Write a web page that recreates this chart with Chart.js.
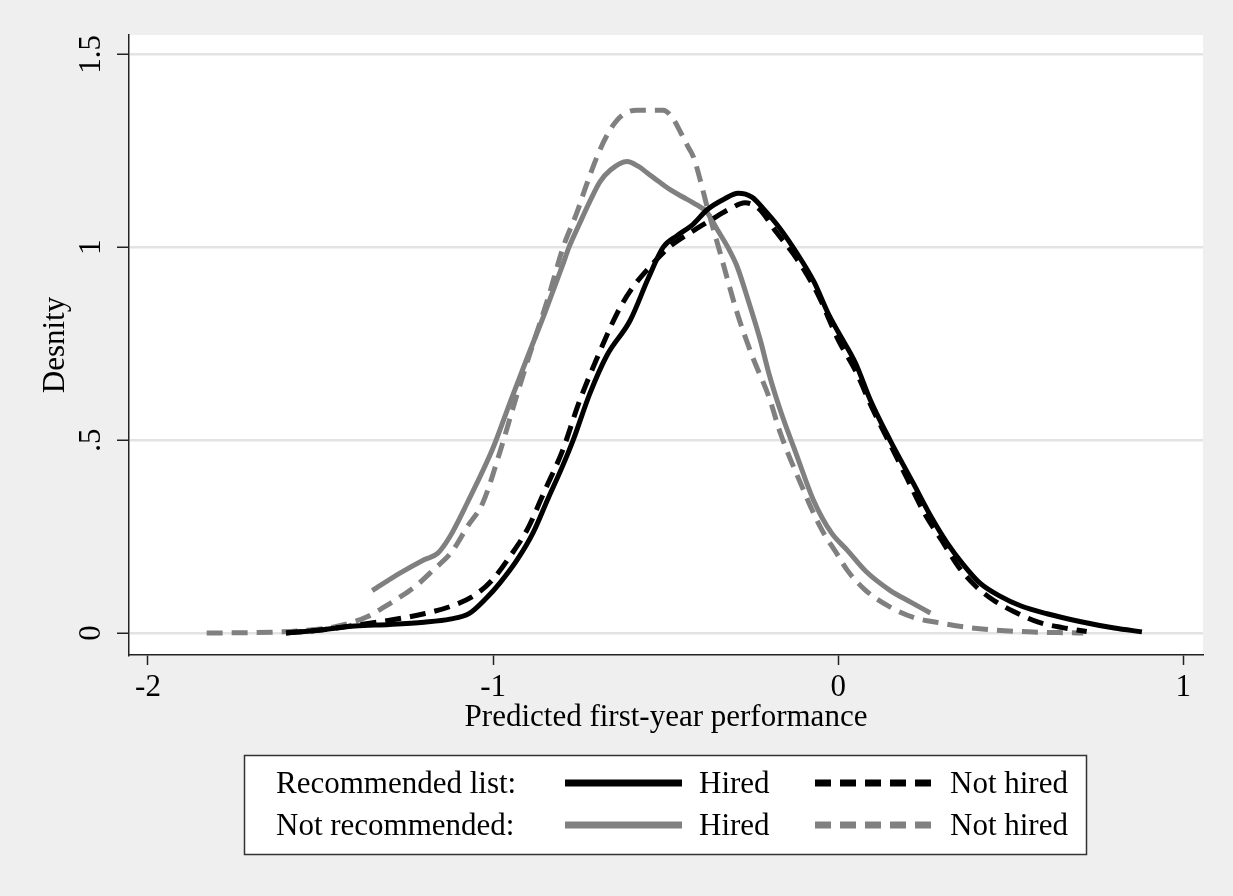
<!DOCTYPE html>
<html>
<head>
<meta charset="utf-8">
<title>Predicted first-year performance densities</title>
<script src="https://cdn.jsdelivr.net/npm/chart.js@4/dist/chart.umd.min.js"></script>
<style>
  html, body { margin: 0; padding: 0; background: #efefef; }
  #wrap { width: 1233px; height: 896px; }
</style>
</head>
<body>
<div id="wrap"><canvas id="chart" width="1233" height="896"></canvas></div>
<script>
// Kernel density estimates of predicted first-year performance
const xRecHired = [-1.60,-1.50,-1.40,-1.30,-1.20,-1.125,-1.07,-1.02,-0.98,-0.93,-0.884,-0.84,-0.80,-0.768,-0.72,-0.67,-0.603,-0.55,-0.507,-0.467,-0.42,-0.38,-0.33,-0.29,-0.25,-0.217,-0.17,-0.12,-0.07,-0.03,0.0,0.05,0.093,0.15,0.217,0.27,0.316,0.36,0.41,0.47,0.53,0.605,0.70,0.80,0.88];
const densRecHired = [0.000,0.008,0.018,0.022,0.028,0.036,0.05,0.09,0.13,0.19,0.26,0.35,0.43,0.50,0.62,0.72,0.81,0.92,1.00,1.03,1.06,1.097,1.125,1.14,1.13,1.10,1.05,0.985,0.91,0.83,0.78,0.70,0.604,0.50,0.389,0.30,0.233,0.18,0.13,0.095,0.07,0.05,0.03,0.013,0.003];

const xRecNotHired = [-1.60,-1.50,-1.40,-1.30,-1.20,-1.12,-1.05,-1.00,-0.95,-0.90,-0.85,-0.80,-0.75,-0.70,-0.64,-0.60,-0.545,-0.49,-0.43,-0.37,-0.313,-0.27,-0.23,-0.18,-0.12,-0.06,0.0,0.05,0.10,0.15,0.20,0.25,0.30,0.35,0.40,0.45,0.51,0.58,0.65,0.72];
const densRecNotHired = [0.000,0.008,0.02,0.033,0.05,0.07,0.10,0.14,0.20,0.27,0.37,0.47,0.60,0.71,0.83,0.89,0.95,1.00,1.037,1.07,1.10,1.115,1.10,1.04,0.97,0.88,0.76,0.68,0.58,0.49,0.40,0.31,0.24,0.17,0.12,0.085,0.055,0.028,0.014,0.004];

const xNotRecHired = [-1.35,-1.27,-1.20,-1.16,-1.125,-1.075,-1.00,-0.95,-0.90,-0.85,-0.80,-0.78,-0.75,-0.719,-0.69,-0.66,-0.612,-0.58,-0.554,-0.52,-0.487,-0.45,-0.42,-0.38,-0.35,-0.32,-0.293,-0.26,-0.226,-0.20,-0.168,-0.12,-0.072,-0.02,0.026,0.08,0.151,0.21,0.267];
const densNotRecHired = [0.11,0.155,0.19,0.207,0.25,0.337,0.48,0.60,0.716,0.83,0.95,1.00,1.06,1.12,1.17,1.20,1.222,1.21,1.193,1.17,1.149,1.13,1.115,1.09,1.045,1.00,0.95,0.86,0.76,0.67,0.578,0.46,0.345,0.26,0.215,0.16,0.11,0.08,0.052];

const xNotRecNotHired = [-1.83,-1.70,-1.61,-1.53,-1.46,-1.40,-1.365,-1.32,-1.27,-1.22,-1.174,-1.12,-1.075,-1.03,-0.98,-0.93,-0.884,-0.84,-0.797,-0.757,-0.73,-0.699,-0.67,-0.64,-0.61,-0.583,-0.545,-0.507,-0.48,-0.458,-0.435,-0.42,-0.40,-0.38,-0.342,-0.293,-0.25,-0.20,-0.168,-0.11,-0.052,0.0,0.026,0.08,0.151,0.22,0.296,0.37,0.449,0.55,0.64,0.71];
const densNotRecNotHired = [0.000,0.001,0.003,0.008,0.016,0.03,0.042,0.065,0.093,0.125,0.163,0.21,0.275,0.337,0.47,0.62,0.75,0.87,1.00,1.09,1.16,1.234,1.29,1.33,1.35,1.355,1.355,1.355,1.335,1.30,1.26,1.235,1.175,1.105,0.985,0.83,0.72,0.61,0.519,0.39,0.275,0.20,0.163,0.11,0.067,0.04,0.026,0.015,0.008,0.003,0.001,0.000];

const xTickValues = [-2, -1, 0, 1];
const xTickLabels = ['-2', '-1', '0', '1'];
const yTickValues = [0, 0.5, 1, 1.5];
const yTickLabels = ['0', '.5', '1', '1.5'];

const groupLabels = ['Recommended list:', 'Not recommended:'];
const statusLabels = ['Hired', 'Not hired'];

const SERIF = '"Liberation Serif", "Times New Roman", Times, serif';
const BLACK = '#000000';
const GREY = '#808080';
const DASH = [16, 9];

function pts(xs, ys) { return xs.map((x, i) => ({ x: x, y: ys[i] })); }

function series(xs, ys, color, dashed) {
  return {
    data: pts(xs, ys),
    borderColor: color,
    borderWidth: 5,
    borderDash: dashed ? DASH : [],
    borderCapStyle: 'butt',
    borderJoinStyle: 'round',
    pointRadius: 0,
    fill: false,
    cubicInterpolationMode: 'monotone'
  };
}

// Grey page with a white plot region
const backdrop = {
  id: 'backdrop',
  beforeDraw(chart) {
    const { ctx, chartArea: a } = chart;
    ctx.save();
    ctx.fillStyle = '#efefef';
    ctx.fillRect(0, 0, chart.width, chart.height);
    ctx.fillStyle = '#ffffff';
    ctx.fillRect(a.left, a.top, a.right - a.left, a.bottom - a.top);
    ctx.restore();
  }
};

// Boxed two-row key under the axis
const keyBox = {
  id: 'keyBox',
  afterDraw(chart) {
    const ctx = chart.ctx;
    const ds = chart.data.datasets;
    ctx.save();
    ctx.fillStyle = '#ffffff';
    ctx.fillRect(244, 755, 842, 99);
    ctx.strokeStyle = '#333333';
    ctx.lineWidth = 1.5;
    ctx.strokeRect(244.5, 755.5, 842, 99);

    ctx.font = '31px ' + SERIF;
    ctx.textBaseline = 'alphabetic';
    ctx.textAlign = 'left';
    const baselines = [793, 835];
    const sampleX = [[565, 682], [815, 932]];
    const labelX = [699, 950];
    for (let r = 0; r < 2; r++) {
      const base = baselines[r];
      ctx.fillStyle = '#000000';
      ctx.fillText(groupLabels[r], 276, base);
      for (let c = 0; c < 2; c++) {
        const d = ds[r * 2 + c];
        ctx.beginPath();
        ctx.strokeStyle = d.borderColor;
        ctx.lineWidth = 7;
        ctx.lineCap = 'butt';
        ctx.setLineDash(d.borderDash || []);
        ctx.moveTo(sampleX[c][0], base - 10);
        ctx.lineTo(sampleX[c][1], base - 10);
        ctx.stroke();
        ctx.setLineDash([]);
        ctx.fillStyle = '#000000';
        ctx.fillText(statusLabels[c], labelX[c], base);
      }
    }
    ctx.restore();
  }
};

Chart.defaults.font.family = SERIF;
Chart.defaults.color = '#000000';

new Chart(document.getElementById('chart'), {
  type: 'line',
  data: {
    datasets: [
      series(xRecHired, densRecHired, BLACK, false),
      series(xRecNotHired, densRecNotHired, BLACK, true),
      series(xNotRecHired, densNotRecHired, GREY, false),
      series(xNotRecNotHired, densNotRecNotHired, GREY, true)
    ]
  },
  options: {
    responsive: false,
    animation: false,
    devicePixelRatio: 1,
    layout: { padding: { left: 0, top: 35, right: 30, bottom: 156 } },
    plugins: { legend: { display: false }, tooltip: { enabled: false } },
    scales: {
      x: {
        type: 'linear',
        min: -2.055,
        max: 1.057,
        afterBuildTicks(s) { s.ticks = xTickValues.map(v => ({ value: v })); },
        afterFit(s) { s.height = 85; },
        ticks: {
          font: { size: 31 },
          color: '#000000',
          padding: 4,
          maxRotation: 0,
          callback: (v, i) => xTickLabels[i]
        },
        grid: {
          display: true,
          drawOnChartArea: false,
          drawTicks: true,
          tickLength: 10,
          tickColor: '#222222',
          tickWidth: 1.5
        },
        border: { display: true, color: '#222222', width: 1.5 },
        title: {
          display: true,
          text: 'Predicted first-year performance',
          font: { size: 31 },
          color: '#000000',
          padding: { top: 0, bottom: 4 }
        }
      },
      y: {
        type: 'linear',
        min: -0.057,
        max: 1.55,
        afterBuildTicks(s) { s.ticks = yTickValues.map(v => ({ value: v })); },
        afterFit(s) { s.width = 129; },
        ticks: {
          font: { size: 31 },
          color: '#000000',
          padding: 6,
          minRotation: 90,
          maxRotation: 90,
          crossAlign: 'center',
          callback: (v, i) => yTickLabels[i]
        },
        grid: {
          display: true,
          drawOnChartArea: true,
          color: '#e3e3e3',
          lineWidth: 2.5,
          drawTicks: true,
          tickLength: 12,
          tickColor: '#222222',
          tickWidth: 1.5
        },
        border: { display: true, color: '#222222', width: 1.5 },
        title: {
          display: true,
          text: 'Desnity',
          font: { size: 31 },
          color: '#000000',
          padding: { top: 37, bottom: 0 }
        }
      }
    }
  },
  plugins: [backdrop, keyBox]
});
</script>
</body>
</html>
